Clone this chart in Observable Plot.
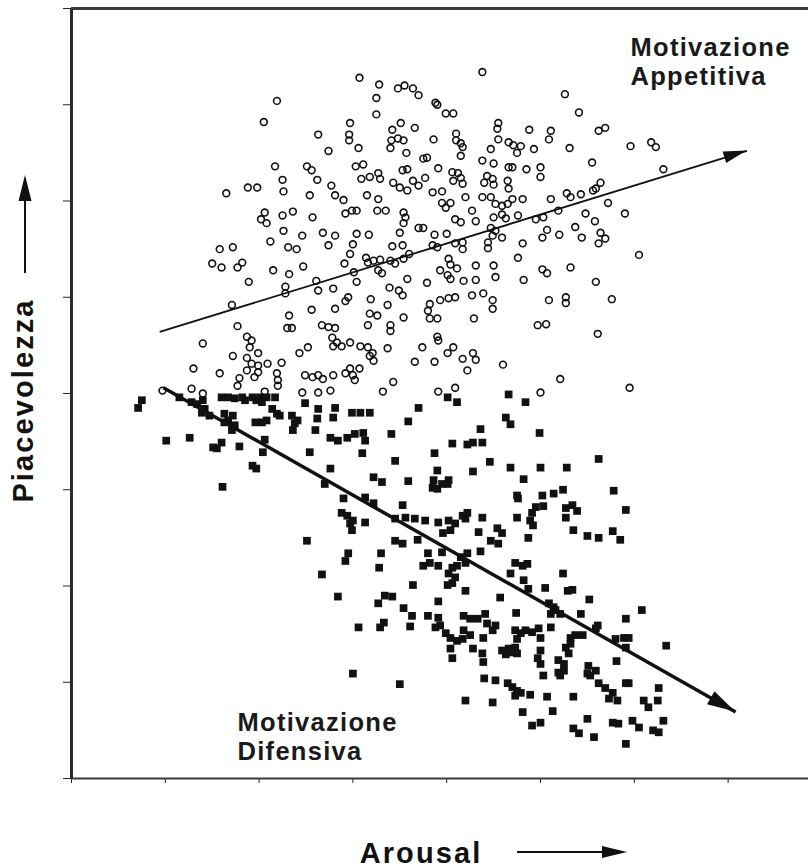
<!DOCTYPE html>
<html><head><meta charset="utf-8">
<script src="https://cdn.jsdelivr.net/npm/d3@7"></script>
<script src="https://cdn.jsdelivr.net/npm/@observablehq/plot@0.6"></script>
<style>
html,body{margin:0;padding:0;background:#fff;}
#chart svg{display:block;}
g[font-size="25.5"]{letter-spacing:1.3px;}
g[font-size="29"]{letter-spacing:2.1px;}
</style></head><body><div id="chart"></div>
<script>
// Motivazione appetitiva (open circles): [arousal, piacevolezza]
const appetitive = [
[4.07,8.28],[4.28,8.21],[4.48,8.17],[4.55,8.20],[3.19,8.04],[4.25,8.07],[3.05,7.82],[4.25,7.90],[3.97,7.81],[3.63,7.69],[3.96,7.69],[3.96,7.63],[4.42,7.74],[4.51,7.81],[4.41,7.63],[4.48,7.65],[4.54,7.63],[3.74,7.52],[4.06,7.55],[4.40,7.55],[4.57,7.50],[3.17,7.36],[3.51,7.36],[3.56,7.32],[4.03,7.36],[4.11,7.38],[4.53,7.32],[4.58,7.33],[3.25,7.22],[3.26,7.10],[3.62,7.22],[4.09,7.23],[4.18,7.25],[4.27,7.29],[4.29,7.23],[4.43,7.19],[2.65,7.08],[2.88,7.14],[2.98,7.14],[3.54,7.06],[3.77,7.16],[3.81,7.06],[3.90,7.01],[4.15,7.06],[4.27,7.02],[4.50,7.14],[4.58,7.11],[3.06,6.88],[3.02,6.81],[3.08,6.77],[3.25,6.85],[3.36,6.89],[3.57,6.83],[3.92,6.87],[3.99,6.90],[4.04,6.90],[4.26,6.90],[4.35,6.90],[4.54,6.88],[4.56,6.83],[3.26,6.69],[3.46,6.64],[3.68,6.67],[3.81,6.64],[4.04,6.66],[4.17,6.65],[4.50,6.67],[4.54,6.77],[3.12,6.58],[3.74,6.54],[3.31,6.52],[3.40,6.50],[4.00,6.55],[3.97,6.45],[2.58,6.50],[2.72,6.52],[4.42,6.53],[4.53,6.54],[2.50,6.35],[2.60,6.31],[2.77,6.31],[2.82,6.36],[3.15,6.28],[3.32,6.24],[3.47,6.32],[3.91,6.35],[4.14,6.41],[4.16,6.36],[4.22,6.38],[4.29,6.39],[4.40,6.38],[4.45,6.35],[4.54,6.40],[4.01,6.26],[4.04,6.16],[4.27,6.28],[4.31,6.25],[2.89,6.16],[3.28,6.11],[3.28,6.04],[3.61,6.17],[3.63,6.07],[3.79,6.09],[4.58,6.19],[4.39,6.10],[2.71,5.92],[3.92,5.96],[3.95,6.00],[4.19,5.98],[4.49,6.07],[4.53,6.02],[4.37,5.92],[3.56,5.87],[3.81,5.88],[4.18,5.83],[4.26,5.81],[4.54,5.79],[2.77,5.70],[3.32,5.81],[3.30,5.68],[3.35,5.68],[3.67,5.71],[3.74,5.69],[3.81,5.68],[4.16,5.71],[4.40,5.71],[4.40,5.65],[2.40,5.52],[2.87,5.59],[2.92,5.55],[2.90,5.48],[3.78,5.58],[3.83,5.53],[3.79,5.49],[3.88,5.49],[3.97,5.53],[4.08,5.49],[4.16,5.48],[4.21,5.42],[4.37,5.47],[2.72,5.39],[2.99,5.42],[2.92,5.31],[2.99,5.29],[3.09,5.31],[3.24,5.32],[2.87,5.37],[3.43,5.42],[3.52,5.48],[4.22,5.34],[4.18,5.39],[2.30,5.26],[2.58,5.21],[2.87,5.24],[2.99,5.22],[2.95,5.17],[3.19,5.21],[3.20,5.14],[3.20,5.08],[3.49,5.19],[3.57,5.17],[3.63,5.19],[3.68,5.15],[3.79,5.19],[3.92,5.21],[3.97,5.26],[4.00,5.19],[4.07,5.26],[4.02,5.14],[4.43,5.12],[4.32,5.02],[1.97,5.03],[2.28,5.05],[2.40,5.00],[2.79,5.16],[2.77,5.08],[3.46,5.01],[3.63,5.01],[3.76,5.03],[3.06,5.02],
[5.38,8.34],[4.64,8.17],[4.70,8.10],[4.88,8.02],[4.90,8.00],[4.99,7.91],[5.07,7.91],[6.26,8.11],[6.41,7.92],[4.66,7.76],[5.55,7.81],[5.54,7.75],[5.88,7.74],[6.11,7.73],[6.09,7.64],[6.62,7.73],[6.69,7.76],[4.86,7.64],[5.10,7.70],[5.10,7.63],[5.15,7.60],[5.17,7.56],[5.15,7.47],[5.55,7.64],[5.66,7.61],[5.71,7.58],[5.79,7.57],[5.75,7.50],[5.47,7.54],[5.38,7.42],[5.50,7.39],[5.93,7.54],[6.31,7.55],[6.96,7.57],[7.18,7.61],[7.23,7.56],[4.75,7.44],[4.79,7.45],[4.91,7.34],[5.66,7.35],[5.70,7.35],[5.85,7.33],[6.00,7.35],[6.00,7.25],[6.55,7.40],[7.31,7.33],[5.06,7.30],[5.12,7.29],[5.07,7.21],[5.15,7.24],[5.17,7.18],[5.43,7.26],[5.49,7.23],[5.40,7.19],[5.50,7.17],[5.65,7.21],[5.66,7.13],[4.64,7.21],[4.70,7.16],[4.77,7.24],[4.85,7.09],[4.95,7.10],[4.95,6.98],[4.99,6.93],[5.04,6.98],[5.20,7.04],[5.38,7.04],[5.47,7.04],[5.52,6.97],[5.59,6.95],[5.65,6.97],[5.70,7.02],[5.81,7.02],[6.11,7.02],[6.28,7.08],[6.32,7.04],[6.43,7.07],[6.56,7.11],[6.59,7.13],[6.64,7.19],[6.72,6.98],[6.90,6.87],[5.27,6.90],[5.31,6.79],[5.09,6.81],[5.15,6.78],[5.50,6.83],[5.59,6.86],[5.63,6.82],[5.76,6.85],[5.95,6.81],[6.03,6.83],[6.19,6.90],[6.48,6.87],[6.58,6.79],[4.70,6.72],[4.75,6.72],[4.87,6.65],[5.00,6.66],[5.47,6.72],[5.52,6.69],[5.49,6.64],[5.59,6.62],[5.44,6.57],[5.44,6.51],[6.07,6.70],[6.02,6.62],[6.20,6.65],[6.37,6.73],[6.44,6.62],[6.64,6.67],[6.69,6.61],[6.62,6.56],[4.85,6.54],[4.90,6.52],[5.09,6.56],[5.17,6.57],[5.17,6.50],[5.81,6.56],[5.76,6.41],[4.60,6.45],[5.02,6.40],[5.04,6.34],[7.05,6.44],[4.93,6.28],[5.01,6.23],[5.11,6.30],[5.04,6.19],[5.18,6.17],[5.31,6.33],[5.31,6.18],[5.50,6.33],[5.52,6.21],[5.82,6.18],[6.02,6.29],[6.07,6.25],[6.32,6.31],[6.59,6.16],[4.79,6.15],[5.27,6.02],[5.39,6.04],[5.49,5.97],[5.49,5.88],[4.82,5.93],[4.93,5.97],[5.02,5.99],[5.09,6.00],[4.80,5.86],[4.82,5.78],[4.90,5.78],[6.09,5.97],[6.27,6.00],[6.27,5.94],[6.76,5.98],[5.29,5.78],[5.97,5.71],[6.06,5.72],[6.61,5.62],[4.90,5.59],[4.91,5.55],[4.74,5.48],[5.07,5.48],[5.01,5.42],[4.66,5.33],[4.87,5.33],[5.17,5.36],[5.28,5.42],[5.31,5.35],[5.22,5.24],[5.60,5.30],[6.21,5.15],[6.95,5.06],[4.91,5.02],[5.09,5.06],[6.00,5.01]
];
// Motivazione difensiva (filled squares): [arousal, piacevolezza]
const defensive = [
[1.75,4.93],[1.71,4.85],[2.15,4.96],[2.28,4.91],[2.34,4.89],[2.40,4.93],[2.42,4.84],[2.39,4.80],[2.47,4.77],[2.63,4.79],[2.67,4.72],[2.72,4.77],[2.74,4.67],[2.71,4.62],[2.63,4.70],[2.60,4.96],[2.67,4.96],[2.74,4.95],[2.82,4.96],[2.85,4.93],[2.93,4.96],[3.01,4.96],[3.08,4.96],[3.17,4.96],[2.97,4.93],[3.03,4.91],[2.96,4.70],[3.03,4.70],[3.08,4.72],[3.14,4.84],[3.19,4.79],[3.22,4.77],[3.35,4.77],[3.38,4.69],[3.36,4.62],[3.41,4.72],[3.49,4.90],[3.63,4.84],[3.62,4.74],[3.60,4.62],[3.81,4.85],[3.79,4.75],[3.99,4.80],[4.08,4.80],[4.18,4.80],[3.76,4.54],[3.84,4.51],[3.94,4.54],[4.02,4.58],[4.11,4.59],[4.13,4.51],[4.41,4.58],[2.01,4.51],[2.26,4.54],[2.51,4.44],[2.60,4.49],[2.55,4.43],[2.79,4.45],[3.06,4.52],[3.04,4.39],[2.93,4.25],[2.97,4.22],[3.54,4.39],[4.10,4.38],[4.45,4.30],[3.76,4.22],[3.70,4.06],[4.22,4.13],[4.31,4.08],[2.61,4.03],[3.90,3.91],[4.13,3.92],[4.22,3.86],[3.88,3.76],[3.94,3.73],[4.00,3.68],[3.99,3.58],[3.97,3.65],[4.13,3.66],[4.45,3.70],[4.45,3.47],[3.51,3.47],[3.95,3.34],[3.92,3.26],[4.30,3.34],[4.28,3.19],[3.67,3.12],[3.84,2.89],[4.27,2.82],[4.34,2.90],[4.42,2.89],[4.06,2.57],[4.29,2.57],[4.33,2.62],[4.00,2.09],[4.50,1.98],
[5.01,4.96],[5.11,4.91],[5.66,4.99],[5.84,4.91],[4.70,4.85],[4.59,4.71],[5.63,4.75],[5.68,4.68],[5.36,4.63],[5.99,4.59],[5.06,4.48],[5.22,4.47],[5.28,4.49],[5.38,4.49],[4.87,4.38],[5.46,4.29],[6.62,4.32],[5.68,4.23],[6.00,4.23],[6.28,4.23],[5.28,4.19],[4.90,4.20],[4.86,4.10],[4.85,4.02],[4.90,4.01],[4.95,4.06],[5.01,4.06],[5.02,4.10],[4.59,4.09],[5.82,4.11],[6.78,3.99],[5.75,3.94],[5.76,3.91],[6.02,3.94],[6.14,3.96],[6.24,4.00],[6.91,3.79],[4.53,3.84],[4.56,3.71],[4.66,3.70],[4.77,3.68],[4.91,3.66],[5.02,3.68],[5.17,3.73],[5.22,3.76],[5.20,3.70],[5.38,3.71],[5.75,3.71],[5.91,3.76],[5.95,3.82],[6.03,3.83],[5.89,3.68],[5.92,3.63],[6.27,3.81],[6.34,3.84],[6.39,3.78],[6.27,3.71],[4.53,3.44],[4.69,3.48],[4.96,3.55],[5.04,3.58],[5.09,3.65],[5.34,3.56],[5.47,3.47],[5.54,3.60],[5.59,3.55],[5.55,3.44],[5.87,3.50],[6.35,3.58],[6.50,3.52],[6.62,3.50],[6.77,3.57],[6.85,3.48],[4.95,3.35],[4.80,3.34],[4.82,3.24],[4.75,3.21],[4.91,3.21],[5.06,3.19],[5.15,3.30],[5.22,3.34],[5.20,3.24],[5.11,3.21],[5.36,3.36],[5.73,3.24],[5.86,3.23],[5.81,3.21],[5.68,3.13],[5.82,3.06],[5.87,2.97],[6.24,3.13],[5.02,3.13],[5.09,3.09],[5.06,3.03],[5.01,3.01],[4.64,3.01],[5.20,2.95],[6.05,2.98],[6.29,2.95],[6.34,2.96],[5.57,2.88],[4.91,2.84],[6.52,2.86],[6.09,2.82],[6.14,2.78],[6.11,2.71],[6.16,2.75],[6.21,2.71],[7.08,2.75],[4.54,2.77],[4.63,2.69],[4.61,2.58],[4.80,2.69],[4.91,2.67],[4.88,2.57],[4.93,2.59],[5.18,2.69],[5.25,2.66],[5.33,2.66],[5.41,2.71],[5.43,2.61],[5.52,2.59],[5.49,2.54],[5.39,2.46],[5.74,2.72],[6.11,2.57],[6.43,2.71],[6.61,2.59],[6.59,2.56],[6.91,2.66],[4.99,2.51],[5.04,2.46],[5.11,2.43],[5.17,2.45],[5.25,2.49],[5.18,2.54],[5.73,2.54],[5.79,2.51],[5.84,2.54],[5.91,2.52],[5.75,2.45],[5.98,2.56],[6.00,2.46],[6.32,2.46],[6.37,2.49],[6.45,2.49],[6.32,2.40],[6.27,2.36],[6.30,2.30],[6.80,2.45],[6.89,2.46],[6.94,2.46],[6.91,2.36],[7.34,2.38],[5.04,2.35],[5.06,2.25],[5.28,2.35],[5.38,2.30],[5.39,2.21],[5.59,2.33],[5.66,2.35],[5.73,2.36],[5.68,2.31],[5.75,2.30],[5.63,2.29],[6.00,2.33],[5.97,2.25],[6.00,2.19],[6.19,2.23],[6.25,2.19],[6.19,2.10],[6.25,2.12],[6.51,2.17],[6.50,2.09],[6.59,2.12],[6.62,1.99],[6.53,2.07],[6.81,2.22],[6.94,1.99],[6.03,2.07],[6.21,2.07],[5.40,2.04],[5.52,2.02],[5.65,1.99],[5.70,1.95],[5.75,1.91],[5.73,1.86],[5.79,1.89],[5.89,1.87],[6.07,1.85],[6.35,1.85],[6.69,1.94],[6.77,1.89],[6.82,1.81],[6.91,1.99],[6.73,1.83],[7.10,1.81],[7.15,1.74],[7.26,1.94],[7.25,1.81],[5.20,1.81],[5.49,1.79],[5.81,1.69],[6.13,1.70],[5.91,1.55],[6.00,1.58],[6.35,1.52],[6.41,1.47],[6.50,1.62],[6.57,1.43],[6.77,1.58],[6.83,1.57],[6.98,1.60],[7.05,1.53],[7.20,1.50],[7.26,1.48],[7.31,1.60],[6.91,1.36]
];
// Trend arrows: [start, end] in data units
const appetitiveTrend = [[1.94,5.64],[8.20,7.52]];
const defensiveTrend = [[1.98,5.06],[8.08,1.69]];
const xTicks = [1,2,3,4,5,6,7,8];
const yTicks = [1,2,3,4,5,6,7,8,9];
const groupLabels = ["Motivazione\nAppetitiva", "Motivazione\nDifensiva"];
const xLabel = "Arousal";
const yLabel = "Piacevolezza";

const NS = "http://www.w3.org/2000/svg";
const INK = "#111";
function drawHead(g, x1, y1, x2, y2, len, wid) {
  const a = Math.atan2(y2 - y1, x2 - x1);
  const bx = x2 - len * Math.cos(a), by = y2 - len * Math.sin(a);
  const px = -Math.sin(a) * wid / 2, py = Math.cos(a) * wid / 2;
  const p = document.createElementNS(NS, "polygon");
  p.setAttribute("points", `${x2},${y2} ${bx + px},${by + py} ${bx - px},${by - py}`);
  p.setAttribute("fill", INK);
  g.appendChild(p);
}
function drawShaft(g, x1, y1, x2, y2, w) {
  const l = document.createElementNS(NS, "line");
  l.setAttribute("x1", x1); l.setAttribute("y1", y1);
  l.setAttribute("x2", x2); l.setAttribute("y2", y2);
  l.setAttribute("stroke", INK); l.setAttribute("stroke-width", w);
  g.appendChild(l);
}

const trendHeads = (index, scales) => {
  const g = document.createElementNS(NS, "g");
  const specs = [[appetitiveTrend, 23, 12], [defensiveTrend, 28, 15]];
  for (const [t, len, wid] of specs) {
    drawHead(g, scales.x(t[0][0]), scales.y(t[0][1]), scales.x(t[1][0]), scales.y(t[1][1]), len, wid);
  }
  return g;
};
const labelArrows = (index, scales, values, dims) => {
  const g = document.createElementNS(NS, "g");
  const ml = dims.marginLeft, bottom = dims.height - dims.marginBottom;
  drawShaft(g, ml - 46, 273, ml - 46, 190, 2);
  drawHead(g, ml - 46, 273, ml - 46, 175, 26, 13);
  drawShaft(g, 517, bottom + 74, 610, bottom + 74, 2);
  drawHead(g, 517, bottom + 74, 627, bottom + 74, 25, 12);
  return g;
};

const chart = Plot.plot({
  width: 808, height: 868,
  marginLeft: 71, marginRight: 0, marginTop: 8, marginBottom: 90,
  style: {fontFamily: "'Liberation Sans', Arial, Helvetica, sans-serif", background: "#fff", color: "#222"},
  x: {domain: [1, 8.857], ticks: xTicks, tickSize: 5, tickFormat: () => "", label: null},
  y: {domain: [1, 9], ticks: yTicks, tickSize: 8, tickFormat: () => "", label: null},
  marks: [
    Plot.ruleX([1], {stroke: "#2a2a2a", strokeWidth: 3}),
    Plot.ruleY([9], {stroke: "#3a3a3a", strokeWidth: 3}),
    Plot.ruleY([1], {stroke: "#3a3a3a", strokeWidth: 2}),
    Plot.dot(defensive, {x: d => d[0], y: d => d[1], symbol: "square", r: 4.35, fill: INK, stroke: "none"}),
    Plot.dot(appetitive, {x: d => d[0], y: d => d[1], r: 3.4, fill: "none", stroke: INK, strokeWidth: 1.6}),
    Plot.link([appetitiveTrend], {x1: d => d[0][0], y1: d => d[0][1], x2: d => d[1][0], y2: d => d[1][1], stroke: INK, strokeWidth: 1.8}),
    Plot.link([defensiveTrend], {x1: d => d[0][0], y1: d => d[0][1], x2: d => d[1][0], y2: d => d[1][1], stroke: INK, strokeWidth: 3.5}),
    trendHeads,
    Plot.text([groupLabels[0]], {text: d => d, frameAnchor: "top-left", dx: 559, dy: 27, textAnchor: "start", lineAnchor: "top", lineHeight: 1.14, fontSize: 25.5, fontWeight: "bold", fill: "#1a1a1a"}),
    Plot.text([groupLabels[1]], {text: d => d, frameAnchor: "top-left", dx: 166, dy: 702, textAnchor: "start", lineAnchor: "top", lineHeight: 1.14, fontSize: 25.5, fontWeight: "bold", fill: "#1a1a1a"}),
    Plot.text([xLabel], {text: d => d, frameAnchor: "bottom", dx: -19, dy: 75.5, textAnchor: "middle", lineAnchor: "middle", fontSize: 29, fontWeight: "bold", fill: "#111"}),
    Plot.text([yLabel], {text: d => d, frameAnchor: "left", dx: -47.5, dy: 7, rotate: -90, textAnchor: "middle", lineAnchor: "middle", fontSize: 29, fontWeight: "bold", fill: "#111"}),
    labelArrows
  ]
});
document.getElementById("chart").appendChild(chart);
</script>
</body></html>
